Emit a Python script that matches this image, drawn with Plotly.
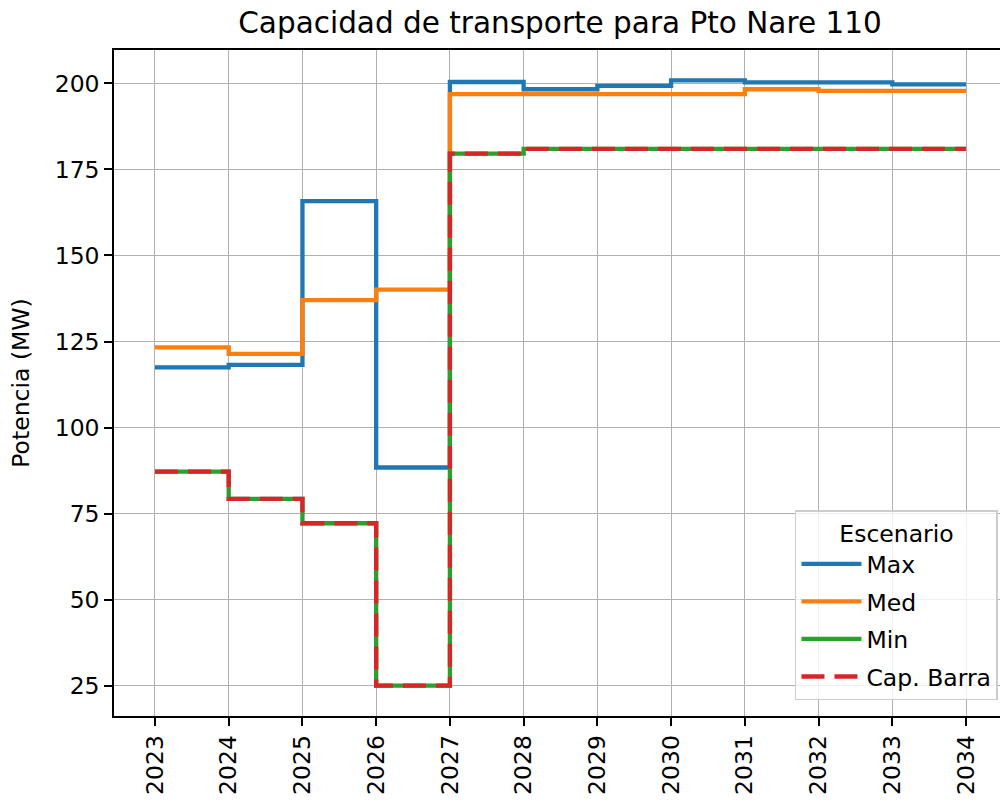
import plotly.graph_objects as go

# Years of the planning horizon
anios = [2023, 2024, 2025, 2026, 2027, 2028, 2029, 2030, 2031, 2032, 2033, 2034]

# Transport capacity per scenario (MW)
cap_max = [117.5, 118.2, 165.8, 88.4, 200.4, 198.3, 199.3, 200.9, 200.3, 200.3, 199.7, 199.7]
cap_med = [123.3, 121.4, 137.0, 140.1, 196.9, 196.9, 196.9, 196.9, 198.3, 197.8, 197.8, 197.8]
cap_min = [87.2, 79.3, 72.2, 25.0, 179.6, 181.0, 181.0, 181.0, 181.0, 181.0, 181.0, 181.0]
cap_barra = [87.2, 79.3, 72.2, 25.0, 179.6, 181.0, 181.0, 181.0, 181.0, 181.0, 181.0, 181.0]

y_ticks = [25, 50, 75, 100, 125, 150, 175, 200]

FONT = "DejaVu Sans"
FS = 23.5
LW = 4.3

series = [
    ("Max", cap_max, "#1f77b4", "solid"),
    ("Med", cap_med, "#ff7f0e", "solid"),
    ("Min", cap_min, "#2ca02c", "solid"),
    ("Cap. Barra", cap_barra, "#d62728", "23px,10px"),
]

fig = go.Figure()
for nombre, valores, color, dash in series:
    fig.add_trace(go.Scatter(
        x=anios, y=valores, name=nombre, mode="lines",
        line=dict(color=color, width=LW, dash=dash, shape="hv"),
        legendgroup=nombre,
    ))

fig.update_layout(
    width=1000, height=802,
    margin=dict(l=114, r=0, t=50, b=86),
    paper_bgcolor="white", plot_bgcolor="white",
    font=dict(family=FONT, size=FS, color="black"),
    title=dict(
        text="Capacidad de transporte para Pto Nare 110",
        font=dict(family=FONT, size=29.5, color="black"),
        x=0.56, xanchor="center", xref="container",
        y=1 - 23 / 802, yanchor="middle", yref="container",
    ),
    legend=dict(
        title=dict(text="Escenario", side="top center",
                   font=dict(family=FONT, size=FS, color="black")),
        font=dict(family=FONT, size=FS, color="black"),
        x=0.9977, xanchor="right", y=0.024, yanchor="bottom",
        bgcolor="rgba(255,255,255,0.8)", bordercolor="#cccccc", borderwidth=1.5,
        tracegroupgap=4, itemwidth=60,
    ),
    showlegend=True,
)

fig.update_xaxes(
    range=[2022.444, 2034.461],
    tickvals=anios, ticktext=[str(a) for a in anios], tickangle=-90,
    showgrid=True, gridcolor="#b0b0b0", gridwidth=1.2,
    showline=True, linecolor="black", linewidth=1.5, mirror=True,
    ticks="outside", ticklen=8, tickwidth=1.5, tickcolor="black",
    tickfont=dict(family=FONT, size=FS, color="black"),
    zeroline=False,
)
fig.update_yaxes(
    range=[16.2, 209.7],
    tickvals=y_ticks,
    showgrid=True, gridcolor="#b0b0b0", gridwidth=1.2,
    showline=True, linecolor="black", linewidth=1.5,
    ticks="outside", ticklen=8, tickwidth=1.5, tickcolor="black",
    tickfont=dict(family=FONT, size=FS, color="black"),
    title=dict(text="Potencia (MW)", standoff=18,
               font=dict(family=FONT, size=FS, color="black")),
    zeroline=False,
)

fig.write_html("out.html")
